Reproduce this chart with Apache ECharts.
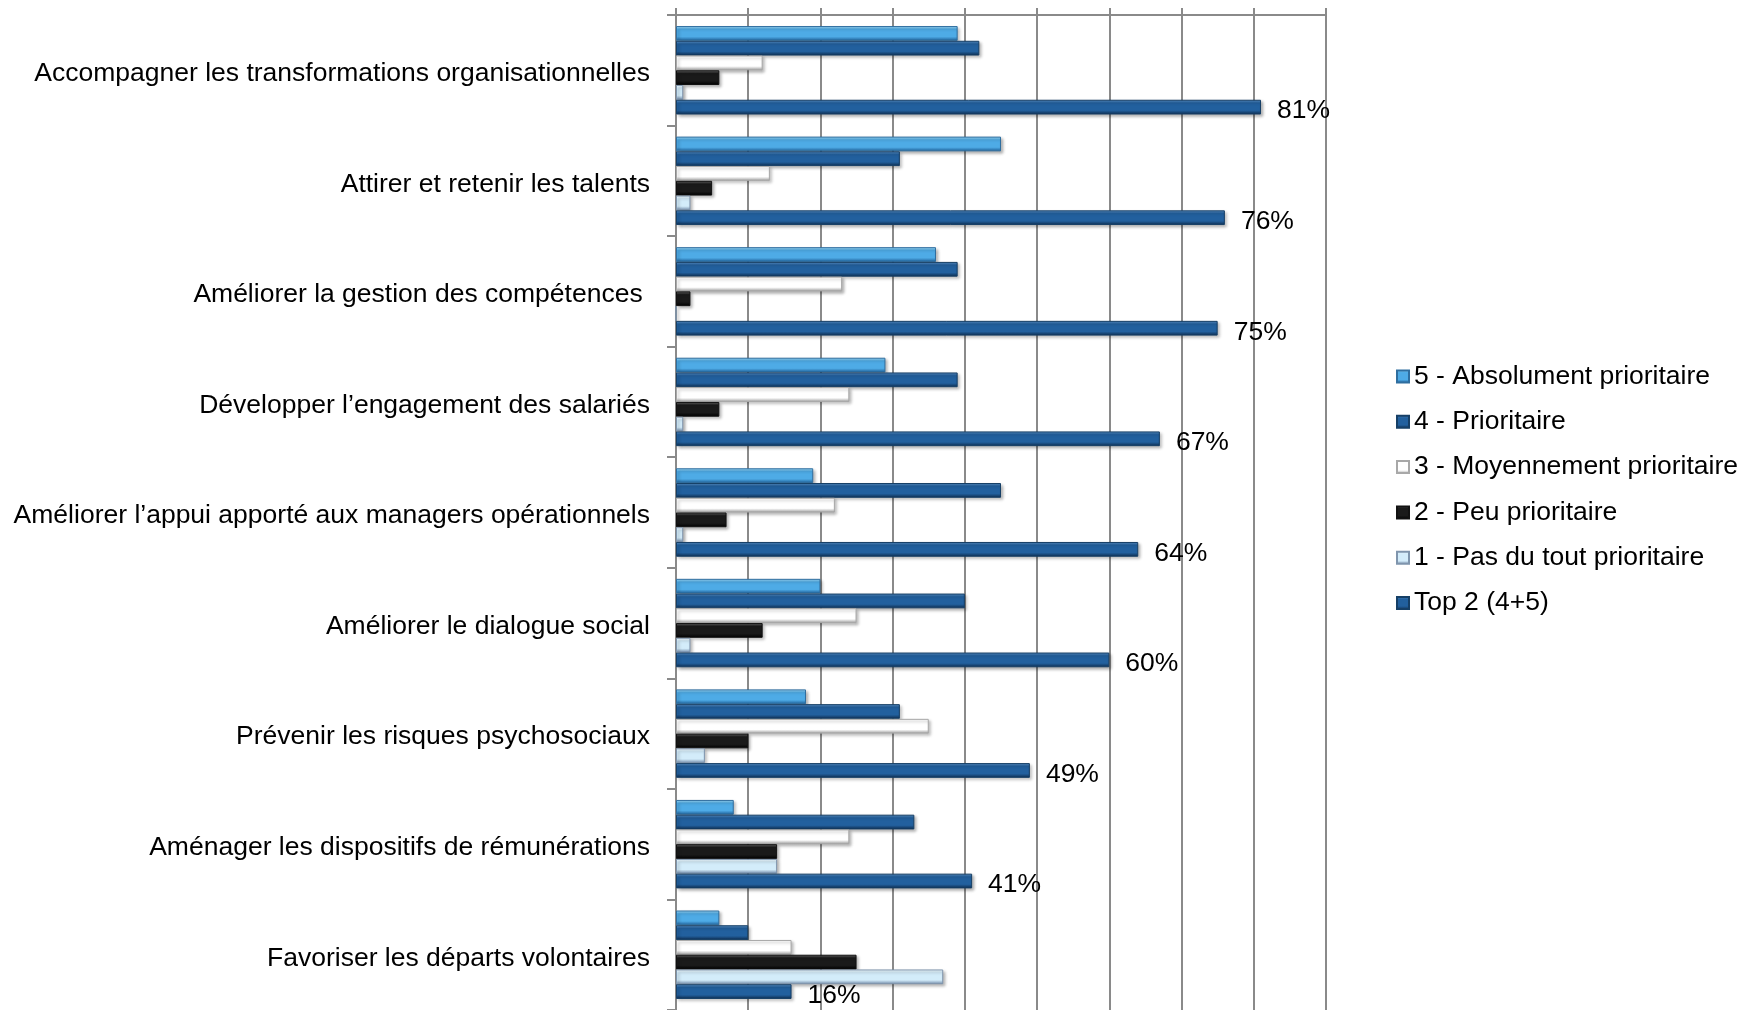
<!DOCTYPE html>
<html>
<head>
<meta charset="utf-8">
<script src="https://cdn.jsdelivr.net/npm/echarts@6/dist/echarts.min.js"></script>
<style>
  html, body { margin: 0; padding: 0; background: #fff; }
  #chart { width: 1742px; height: 1010px; }
</style>
</head>
<body>
<div id="chart"></div>
<script>
const categories = [
  'Accompagner les transformations organisationnelles',
  'Attirer et retenir les talents',
  'Améliorer la gestion des compétences ',
  'Développer l’engagement des salariés',
  'Améliorer l’appui apporté aux managers opérationnels',
  'Améliorer le dialogue social',
  'Prévenir les risques psychosociaux',
  'Aménager les dispositifs de rémunérations',
  'Favoriser les départs volontaires'
];
const seriesNames = [
  '5 - Absolument prioritaire',
  '4 - Prioritaire',
  '3 - Moyennement prioritaire',
  '2 - Peu prioritaire',
  '1 - Pas du tout prioritaire',
  'Top 2 (4+5)'
];
const absolument = [39, 45, 36, 29, 19, 20, 18, 8, 6];
const prioritaire = [42, 31, 39, 39, 45, 40, 31, 33, 10];
const moyennement = [12, 13, 23, 24, 22, 25, 35, 24, 16];
const peu = [6, 5, 2, 6, 7, 12, 10, 14, 25];
const pasDuTout = [1, 2, 0, 1, 1, 2, 4, 14, 37];
const top2 = [81, 76, 75, 67, 64, 60, 49, 41, 16];

const FONT = 'Liberation Sans, Arial, sans-serif';

// fausse bordure biseautee : clair en haut, fonce en bas
function bevel(light, base, dark) {
  return new echarts.graphic.LinearGradient(0, 0, 0, 1, [
    { offset: 0, color: light },
    { offset: 0.22, color: base },
    { offset: 0.72, color: base },
    { offset: 1, color: dark }
  ]);
}

const styles = [
  { color: bevel('#a6e0fb', '#4eabe6', '#1d5d96'), borderColor: '#2f6e9f' },
  { color: bevel('#5d93c9', '#22609e', '#0e2c4d'), borderColor: '#163f66' },
  { color: bevel('#ffffff', '#ffffff', '#9a9a9a'), borderColor: '#a8a8a8' },
  { color: bevel('#6a6a6a', '#1a1a1a', '#000000'), borderColor: '#111111' },
  { color: bevel('#f2fbff', '#d3ecfa', '#7089a8'), borderColor: '#7f95ad' },
  { color: bevel('#5d93c9', '#22609e', '#0e2c4d'), borderColor: '#163f66' }
];
const values = [absolument, prioritaire, moyennement, peu, pasDuTout, top2];

const series = values.map((data, i) => ({
  name: seriesNames[i],
  type: 'bar',
  data: data,
  barGap: '0%',
  barCategoryGap: '20%',
  itemStyle: {
    color: styles[i].color,
    borderColor: styles[i].borderColor,
    borderWidth: 1,
    shadowColor: 'rgba(0,0,0,0.3)',
    shadowBlur: 3,
    shadowOffsetX: 2,
    shadowOffsetY: 2
  },
  label: {
    show: i === 5,
    position: 'right',
    distance: 16,
    offset: [0, 4],
    formatter: '{c}%',
    color: '#000',
    fontSize: 26.5,
    fontFamily: FONT
  }
}));

const chart = echarts.init(document.getElementById('chart'));
chart.setOption({
  animation: false,
  backgroundColor: '#fff',
  legend: {
    orient: 'vertical',
    left: 1391,
    top: 358,
    icon: 'rect',
    itemWidth: 12,
    itemHeight: 12,
    itemGap: 18.3,
    textStyle: { color: '#000', fontSize: 26.5, lineHeight: 26, fontFamily: FONT },
    data: seriesNames
  },
  grid: {
    left: 676,
    right: 416,
    top: 15,
    bottom: -2,
    containLabel: false
  },
  xAxis: {
    type: 'value',
    position: 'top',
    min: 0,
    max: 90,
    interval: 10,
    axisLine: { show: true, lineStyle: { color: '#8a8a8a', width: 2 } },
    axisTick: { show: true, length: 7, lineStyle: { color: '#8a8a8a', width: 2 } },
    axisLabel: { show: false },
    splitLine: { show: true, lineStyle: { color: '#8a8a8a', width: 2 } }
  },
  yAxis: {
    type: 'category',
    inverse: true,
    data: categories,
    axisLine: { show: true, lineStyle: { color: '#8a8a8a', width: 2 } },
    axisTick: { show: true, length: 9, lineStyle: { color: '#8a8a8a', width: 2 } },
    axisLabel: {
      margin: 26,
      formatter: (v) => '{t|' + v + '}',
      rich: {
        t: { color: '#000', fontSize: 26.5, fontFamily: FONT, padding: [7, 0, 0, 0] }
      }
    }
  },
  series: series
});
window.addEventListener('resize', () => chart.resize());
</script>
</body>
</html>
